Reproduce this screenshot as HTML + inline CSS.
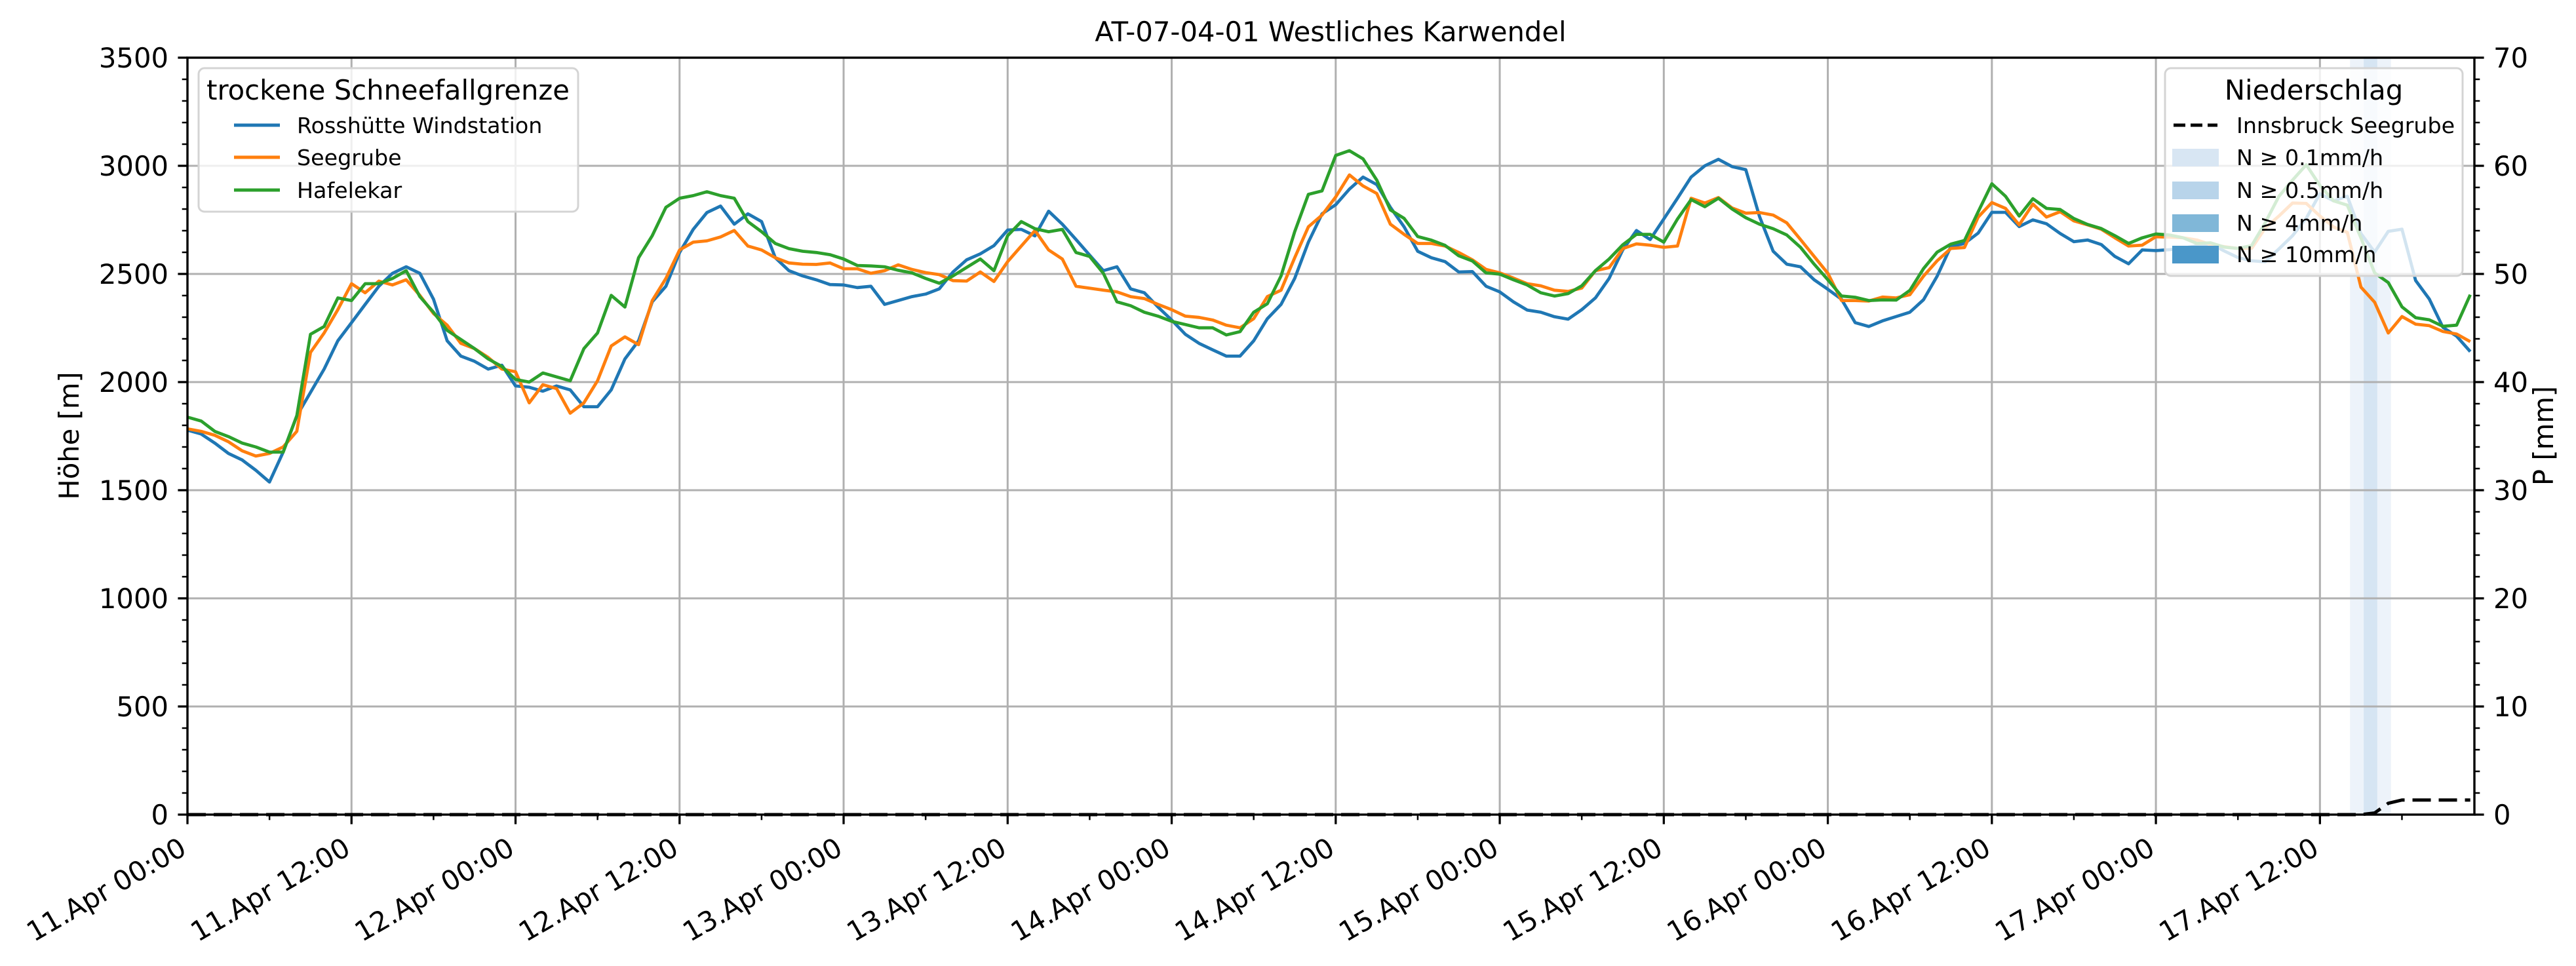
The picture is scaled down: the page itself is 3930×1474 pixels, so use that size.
<!DOCTYPE html>
<html><head><meta charset="utf-8"><style>
html,body{margin:0;padding:0;background:#fff;}
svg{display:block;font-family:"DejaVu Sans","Liberation Sans",sans-serif;}
</style></head><body>
<svg id="chart" width="3930" height="1474" viewBox="0 0 3930 1474" xmlns="http://www.w3.org/2000/svg">
<rect x="0" y="0" width="3930" height="1474" fill="#fff"/>
<text x="2030" y="63" font-size="41.7" text-anchor="middle">AT-07-04-01 Westliches Karwendel</text>
<g id="shade"></g>
<g id="grid"></g>
<g id="series"></g>
<g id="axes"></g>
<text transform="translate(120,665) rotate(-90)" font-size="41.7" text-anchor="middle">Höhe [m]</text>
<text transform="translate(3895,665) rotate(-90)" font-size="41.7" text-anchor="middle">P [mm]</text>
<g>
<rect x="303" y="104" width="579" height="219" rx="9" fill="rgba(255,255,255,0.8)" stroke="#d4d4d4" stroke-width="3"/>
<text x="592" y="152" font-size="41.7" text-anchor="middle">trockene Schneefallgrenze</text>
<line x1="357" y1="191" x2="427" y2="191" stroke="#1f77b4" stroke-width="5"/>
<text x="453" y="203" font-size="33.3">Rosshütte Windstation</text>
<line x1="357" y1="240" x2="427" y2="240" stroke="#ff7f0e" stroke-width="5"/>
<text x="453" y="252" font-size="33.3">Seegrube</text>
<line x1="357" y1="290" x2="427" y2="290" stroke="#2ca02c" stroke-width="5"/>
<text x="453" y="302" font-size="33.3">Hafelekar</text>
</g>
<g>
<rect x="3303" y="104" width="454" height="317" rx="9" fill="rgba(255,255,255,0.8)" stroke="#d4d4d4" stroke-width="3"/>
<text x="3530" y="152" font-size="41.7" text-anchor="middle">Niederschlag</text>
<line x1="3316" y1="191" x2="3383" y2="191" stroke="#000" stroke-width="5" stroke-dasharray="18,8"/>
<text x="3412" y="203" font-size="33.3">Innsbruck Seegrube</text>
<rect x="3314" y="227" width="71" height="27" fill="#d8e6f3"/>
<text x="3412" y="252" font-size="33.3">N ≥ 0.1mm/h</text>
<rect x="3314" y="277" width="71" height="27" fill="#b8d4ea"/>
<text x="3412" y="302" font-size="33.3">N ≥ 0.5mm/h</text>
<rect x="3314" y="327" width="71" height="27" fill="#80b7d8"/>
<text x="3412" y="352" font-size="33.3">N ≥ 4mm/h</text>
<rect x="3314" y="375" width="71" height="27" fill="#4a97c9"/>
<text x="3412" y="400" font-size="33.3">N ≥ 10mm/h</text>
</g>
</svg>
<script>
const xTickLabels = ["11.Apr 00:00","11.Apr 12:00","12.Apr 00:00","12.Apr 12:00","13.Apr 00:00","13.Apr 12:00","14.Apr 00:00","14.Apr 12:00","15.Apr 00:00","15.Apr 12:00","16.Apr 00:00","16.Apr 12:00","17.Apr 00:00","17.Apr 12:00"];
const yTicks = [0,500,1000,1500,2000,2500,3000,3500];
const y2Ticks = [0,10,20,30,40,50,60,70];
const rosshuette = [1778,1760,1718,1670,1640,1592,1538,1676,1844,1952,2060,2191,2275,2359,2443,2503,2533,2503,2383,2191,2120,2096,2060,2078,1982,1976,1958,1982,1964,1886,1886,1964,2107,2191,2371,2443,2599,2706,2784,2814,2730,2778,
2742,2575,2515,2491,2473,2451,2449,2437,2443,2359,2377,2395,2407,2431,2509,2565,2593,2631,2703,2706,2676,2790,2730,2659,2587,2515,2533,2431,2413,2347,2287,2221,2179,2149,2120,2120,2191,2293,2359,2479,2647,2778,
2820,2892,2948,2913,2808,2718,2605,2575,2557,2509,2511,2443,2417,2371,2333,2323,2302,2291,2335,2389,2479,2611,2701,2659,2754,2850,2948,3000,3030,2996,2982,2766,2605,2545,2533,2473,2429,2383,2275,2257,
2283,2303,2323,2381,2490,2627,2641,2689,2785,2785,2719,2750,2732,2687,2649,2657,2636,2581,2547,2611,2608,
2612,2620,2630,2640,2606,2576,2561,2556,2616,2677,2758,2871,2838,2859,2687,2601,2697,2707,2470,2384,2253,2212,2141];
const seegrube = [1784,1772,1754,1724,1682,1658,1670,1700,1772,2137,2227,2335,2455,2413,2467,2449,2473,2401,2317,2263,2179,2155,2114,2060,2048,1904,1988,1970,1856,1904,2006,2167,2209,2173,2377,2479,2611,2647,2653,2671,2701,2629,
2611,2575,2551,2545,2544,2551,2524,2524,2503,2515,2542,2521,2506,2497,2469,2467,2509,2465,2557,2629,2701,2611,2569,2443,2434,2425,2417,2395,2386,2359,2335,2305,2299,2287,2263,2251,2293,2395,2425,2575,2718,2772,
2856,2958,2907,2872,2730,2683,2641,2641,2629,2599,2565,2521,2505,2481,2455,2445,2425,2419,2435,2515,2529,2617,2639,2633,2623,2629,2850,2828,2853,2805,2781,2784,2772,2736,2659,2581,2503,2377,2377,2375,2393,
2389,2404,2490,2561,2618,2622,2763,2830,2803,2727,2823,2763,2788,2745,2727,2707,2667,2629,2633,2672,2670,
2667,2657,2636,2626,2618,2618,2712,2768,2828,2826,2768,2717,2692,2439,2369,2227,2303,2268,2261,2234,2222,2187];
const hafelekar = [1838,1820,1772,1748,1718,1700,1676,1676,1844,2221,2257,2389,2377,2455,2455,2479,2515,2395,2323,2239,2197,2155,2107,2072,2012,2000,2042,2024,2006,2155,2227,2401,2347,2575,2677,2808,2850,2862,2880,2862,2850,2742,
2695,2641,2617,2605,2599,2589,2569,2539,2537,2533,2517,2505,2479,2457,2491,2530,2569,2515,2677,2742,2709,2695,2706,2599,2581,2503,2371,2353,2323,2305,2281,2266,2251,2251,2218,2233,2323,2362,2491,2695,2868,2884,
3048,3070,3032,2934,2796,2757,2673,2656,2632,2584,2560,2505,2499,2473,2449,2413,2398,2409,2445,2515,2569,2635,2683,2683,2647,2754,2844,2811,2850,2800,2760,2730,2709,2680,2623,2545,2473,2398,2392,2377,2380,
2379,2424,2525,2601,2638,2655,2788,2917,2859,2768,2848,2803,2798,2756,2729,2710,2677,2641,2667,2685,2680,
2667,2641,2644,2624,2618,2631,2737,2859,2934,3005,2909,2838,2818,2667,2505,2460,2348,2298,2288,2258,2263,2404];
const precipHours = [159,160,161];
const precipValues = [0.15,0.9,0.3];

const NS = "http://www.w3.org/2000/svg";
const L = 286, R = 3775, T = 88, B = 1243;
const HMAX = 167.3;
function xs(h){ return L + h * (R - L) / HMAX; }
function ys(v){ return B - v * (B - T) / 3500; }
function ys2(p){ return B - p * (B - T) / 70; }
function mk(tag, attrs, parent){
  const e = document.createElementNS(NS, tag);
  for (const k in attrs) e.setAttribute(k, attrs[k]);
  parent.appendChild(e);
  return e;
}
const grid = document.getElementById('grid');
const axes = document.getElementById('axes');
const series = document.getElementById('series');
const shade = document.getElementById('shade');

// precipitation shading
precipValues.forEach((p, i) => {
  const h = precipHours[i];
  const r = mk('rect', {x: xs(h - 0.8), y: T, width: xs(h + 0.2) - xs(h - 0.8), height: B - T,
    fill: p >= 0.5 ? '#d6e5f3' : '#edf3fa'}, shade);
  
  
});

// grid
yTicks.forEach(v => {
  const g = mk('line', {x1: L, x2: R, y1: ys(v), y2: ys(v), stroke: '#b0b0b0', 'stroke-width': 3}, grid);
  
  
});
xTickLabels.forEach((lab, i) => {
  const g = mk('line', {x1: xs(i * 12), x2: xs(i * 12), y1: T, y2: B, stroke: '#b0b0b0', 'stroke-width': 3}, grid);
  
  
});

// series
function drawLine(vals, color, name){
  const pts = vals.map((v, h) => xs(h).toFixed(1) + ',' + ys(v).toFixed(1)).join(' ');
  const pl = mk('polyline', {points: pts, fill: 'none', stroke: color, 'stroke-width': 4.8, 'stroke-linejoin': 'round'}, series);
  
  
}
drawLine(rosshuette, '#1f77b4', 'line-rosshuette');
drawLine(seegrube, '#ff7f0e', 'line-seegrube');
drawLine(hafelekar, '#2ca02c', 'line-hafelekar');

// cumulative precipitation
let cum = 0; const cpts = [];
for (let h = 0; h <= 167; h++) {
  cpts.push(xs(h).toFixed(1) + ',' + ys2(cum).toFixed(1));
  const idx = precipHours.indexOf(h);
  if (idx >= 0) cum += precipValues[idx];
}
const cl = mk('polyline', {points: cpts.join(' '), fill: 'none', stroke: '#000', 'stroke-width': 5, 'stroke-dasharray': '28,12'}, series);



// spines
const fr = mk('rect', {x: L, y: T, width: R - L, height: B - T, fill: 'none', stroke: '#000', 'stroke-width': 3.4}, axes);



// y ticks left
for (let v = 0; v <= 3500; v += 100) {
  const major = v % 500 === 0;
  const t = mk('line', {x1: L - (major ? 14.6 : 8.3), x2: L, y1: ys(v), y2: ys(v), stroke: '#000', 'stroke-width': major ? 3.3 : 2.5}, axes);
  
  
}
yTicks.forEach(v => {
  const t = mk('text', {x: 257, y: ys(v) + 15, 'font-size': 41.7, 'text-anchor': 'end'}, axes);
  t.textContent = String(v);
  
  
});
// y ticks right
for (let p = 0; p <= 70; p += 2) {
  const major = p % 10 === 0;
  const t = mk('line', {x1: R, x2: R + (major ? 14.6 : 8.3), y1: ys2(p), y2: ys2(p), stroke: '#000', 'stroke-width': major ? 3.3 : 2.5}, axes);
  
  
}
y2Ticks.forEach(p => {
  const t = mk('text', {x: 3804, y: ys2(p) + 15, 'font-size': 41.7, 'text-anchor': 'start'}, axes);
  t.textContent = String(p);
  
  
});
// x ticks
for (let h = 0; h <= 166; h += 6) {
  const major = h % 12 === 0;
  const t = mk('line', {x1: xs(h), x2: xs(h), y1: B, y2: B + (major ? 14.6 : 8.3), stroke: '#000', 'stroke-width': major ? 3.3 : 2.5}, axes);
  
  
}
xTickLabels.forEach((lab, i) => {
  const px = xs(i * 12) + 1, py = 1302;
  const t = mk('text', {x: px, y: py, 'font-size': 41.7, 'text-anchor': 'end', transform: 'rotate(-30 ' + px + ' ' + py + ')'}, axes);
  t.textContent = lab;
  
  
});
</script>
</body></html>
